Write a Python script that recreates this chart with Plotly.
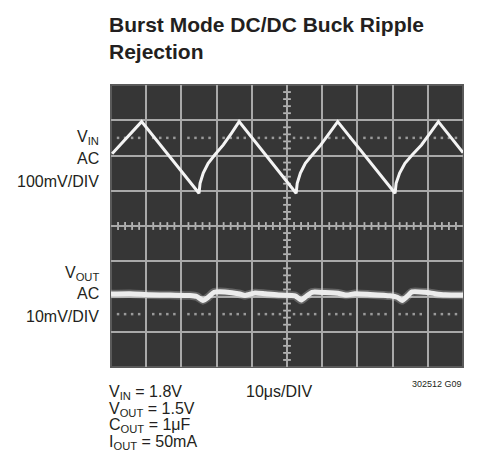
import plotly.graph_objects as go

# ---- data (time in microseconds, level in screen divisions) ----
vin_time = [0.3, 8.7, 25.0, 25.3, 26.2, 27.6, 29.5, 31.9, 34.2, 36.4,
            52.6, 52.9, 53.8, 55.2, 57.2, 59.6, 62.0, 64.4,
            80.7, 81.0, 82.0, 83.5, 85.6, 88.2, 90.6, 93.0, 100.0]
vin_level = [2.05, 2.96, 0.93, 1.21, 1.50, 1.78, 2.02, 2.30, 2.63, 2.96,
             0.93, 1.21, 1.50, 1.78, 2.02, 2.30, 2.63, 2.96,
             0.93, 1.21, 1.50, 1.78, 2.02, 2.30, 2.63, 2.96, 2.08]

vout_time = [0.0, 5.4, 11.1, 16.8, 22.4, 24.4, 26.1, 27.6, 29.3, 32.4, 36.6,
             38.1, 40.9, 43.8, 48.0, 52.3, 54.0, 55.4, 57.1, 60.8, 65.1, 67.0,
             69.3, 73.6, 79.3, 81.3, 82.7, 84.1, 85.5, 89.2, 92.0, 94.9, 100.0]
vout_level = [-1.93, -1.92, -1.95, -1.96, -1.97, -2.00, -2.11, -2.02, -1.88, -1.87, -1.93,
              -1.97, -1.90, -1.92, -1.96, -1.98, -2.10, -2.00, -1.88, -1.89, -1.92, -1.96,
              -1.92, -1.94, -1.98, -2.02, -2.11, -2.00, -1.87, -1.88, -1.92, -1.95, -1.96]

x_grid = [10, 20, 30, 40, 50, 60, 70, 80, 90]
y_grid = [-3, -2, -1, 0, 1, 2, 3]
ref_levels = [2.5, -2.5]

title_lines = ["Burst Mode DC/DC Buck Ripple", "Rejection"]
vin_labels = ["V<sub>IN</sub>", "AC", "100mV/DIV"]
vout_labels = ["V<sub>OUT</sub>", "AC", "10mV/DIV"]
cond_labels = ["V<sub>IN</sub> = 1.8V", "V<sub>OUT</sub> = 1.5V",
               "C<sub>OUT</sub> = 1μF", "I<sub>OUT</sub> = 50mA"]
timebase_label = "10μs/DIV"
fig_id = "302512 G09"

# page body has an 8px margin; work in page pixels and convert
OFF = 8
W, H = 463, 448
L, R, T, B = 111 - OFF, 463 - OFF, 85 - OFF, 367 - OFF


def px(x):
    return (x - OFF - L) / (R - L)


def py(y):
    return (B - (y - OFF)) / (B - T)


fig = go.Figure()

# reference dotted markers (decoration)
dot_x = [d / 5 * 10 for d in range(1, 50) if d % 5 != 0]
for lv in ref_levels:
    fig.add_trace(go.Scatter(x=dot_x, y=[lv] * len(dot_x), mode="markers",
                             marker=dict(symbol="square", size=2.5, color="#9a9a9a"),
                             hoverinfo="skip", showlegend=False))

# center graticule ticks
tick_x = [i * 2 for i in range(1, 50) if i % 5 != 0]
tick_y = [i * 0.2 for i in range(-19, 20) if i % 5 != 0]
for tx in tick_x:
    fig.add_shape(type="line", x0=tx, x1=tx, y0=-0.11, y1=0.11,
                  line=dict(color="#b5b5b5", width=1.8), layer="below")
for ty in tick_y:
    fig.add_shape(type="line", x0=48.9, x1=51.1, y0=ty, y1=ty,
                  line=dict(color="#b5b5b5", width=1.8), layer="below")

# traces
fig.add_trace(go.Scatter(x=vout_time, y=vout_level, mode="lines",
                         line=dict(color="rgba(220,220,220,0.28)", width=8.5, shape="spline", smoothing=0.6),
                         hoverinfo="skip", showlegend=False))
fig.add_trace(go.Scatter(x=vout_time, y=vout_level, mode="lines",
                         line=dict(color="#ececec", width=5, shape="spline", smoothing=0.6),
                         showlegend=False))
fig.add_trace(go.Scatter(x=vin_time, y=vin_level, mode="lines",
                         line=dict(color="#f4f4f4", width=3),
                         showlegend=False))

fig.update_xaxes(range=[0, 100], tickvals=x_grid, showticklabels=False,
                 showgrid=True, gridcolor="#a9a9a9", gridwidth=1.6,
                 zeroline=False, showline=False, fixedrange=True)
fig.update_yaxes(range=[-4, 4], tickvals=y_grid, showticklabels=False,
                 showgrid=True, gridcolor="#a9a9a9", gridwidth=1.6,
                 zeroline=False, showline=False, fixedrange=True)

# screen frame
fig.add_shape(type="rect", xref="paper", yref="paper", x0=0, x1=1, y0=0, y1=1,
              line=dict(color="#5a5a5a", width=2), layer="below")

ann = []
# title
title_font = dict(family="Liberation Sans, Arial, sans-serif", size=21, color="#231f20")
for i, t in enumerate(title_lines):
    ann.append(dict(text="<b>%s</b>" % t, x=px(107), y=py(24.5 + 26.7 * i),
                    xanchor="left", yanchor="middle", font=title_font))

lab_font = dict(family="Liberation Sans, Arial, sans-serif", size=16, color="#231f20")
for txt, yy in zip(vin_labels, [137, 158, 181]):
    ann.append(dict(text=txt, x=px(101), y=py(yy), xanchor="right", yanchor="middle", font=lab_font))
for txt, yy in zip(vout_labels, [273, 293, 316]):
    ann.append(dict(text=txt, x=px(101), y=py(yy), xanchor="right", yanchor="middle", font=lab_font))

for i, txt in enumerate(cond_labels):
    ann.append(dict(text=txt, x=px(107), y=py(392.5 + 16.7 * i), xanchor="left",
                    yanchor="middle", font=lab_font))
ann.append(dict(text=timebase_label, x=px(244), y=py(391.5), xanchor="left",
                yanchor="middle", font=lab_font))
ann.append(dict(text=fig_id, x=px(464), y=py(384), xanchor="right", yanchor="middle",
                font=dict(family="Liberation Sans, sans-serif", size=9, color="#231f20")))

for a in ann:
    a.update(xref="paper", yref="paper", showarrow=False)

fig.update_layout(width=W, height=H,
                  margin=dict(l=L, r=W - R, t=T, b=H - B, pad=0),
                  paper_bgcolor="white", plot_bgcolor="#363636",
                  annotations=ann, showlegend=False)

fig.write_html("out.html", config={"displayModeBar": False})
